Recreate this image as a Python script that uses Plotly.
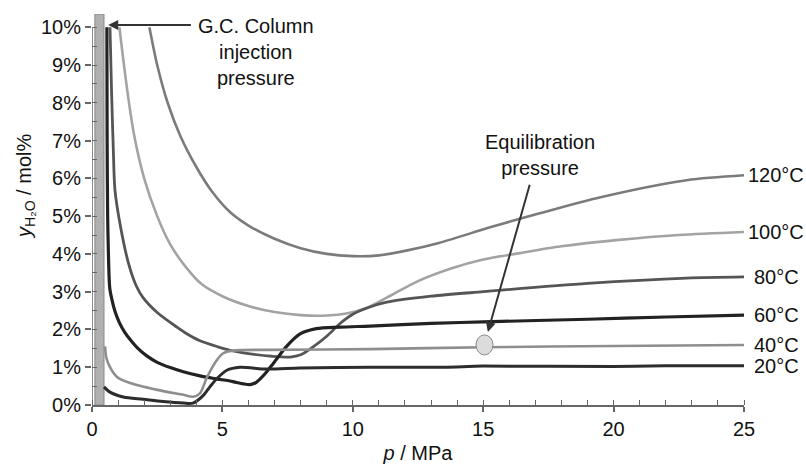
import plotly.graph_objects as go

# ---- data ----
p_120 = [2.2, 2.5, 2.9, 3.4, 4.0, 4.6, 5.3, 6.0, 7.0, 8.0, 9.0, 10.0, 11.0, 12.0, 13.3, 15.3, 17.2, 19.5, 22.8, 25]
y_120 = [10, 9.0, 8.0, 7.1, 6.3, 5.65, 5.1, 4.75, 4.4, 4.15, 4.0, 3.94, 3.96, 4.08, 4.29, 4.71, 5.08, 5.5, 5.95, 6.08]

p_100 = [1.05, 1.3, 1.6, 2.0, 2.5, 3.0, 3.6, 4.2, 5.0, 6.0, 7.0, 8.0, 9.0, 9.8, 10.5, 11.3, 12.5, 13.8, 15.0, 16.4, 18.0, 20.2, 22.5, 25]
y_100 = [10, 8.6, 7.2, 6.0, 5.0, 4.25, 3.65, 3.2, 2.88, 2.62, 2.46, 2.38, 2.37, 2.43, 2.56, 2.84, 3.28, 3.62, 3.85, 4.02, 4.2, 4.37, 4.5, 4.58]

p_80 = [0.69, 0.75, 0.82, 0.88, 1.1, 1.4, 1.7, 1.95, 2.5, 3.26, 3.6, 4.14, 4.83, 5.4, 6.0, 6.9, 7.6, 8.0, 8.4, 9.0, 9.5, 10.0, 10.6, 11.3, 13.0, 15.0, 19.0, 22.8, 25]
y_80 = [10, 8.3, 6.7, 5.69, 4.7, 3.75, 3.15, 2.85, 2.45, 2.06, 1.9, 1.7, 1.54, 1.43, 1.36, 1.29, 1.27, 1.33, 1.5, 1.82, 2.15, 2.4, 2.58, 2.72, 2.88, 3.0, 3.22, 3.36, 3.39]

p_60 = [0.57, 0.58, 0.6, 0.63, 0.68, 0.76, 0.88, 1.05, 1.25, 1.5, 1.73, 2.1, 2.5, 3.0, 3.5, 4.14, 4.7, 5.4, 5.8, 6.06, 6.3, 6.6, 6.95, 7.46, 7.98, 8.6, 9.5, 10.66, 13, 15, 19, 22, 25]
y_60 = [10, 7.0, 5.0, 4.0, 3.1, 2.8, 2.48, 2.18, 1.93, 1.7, 1.52, 1.3, 1.13, 0.99, 0.88, 0.77, 0.7, 0.62, 0.56, 0.54, 0.6, 0.8, 1.1, 1.55, 1.88, 2.02, 2.06, 2.09, 2.16, 2.2, 2.27, 2.33, 2.38]

p_40 = [0.5, 0.55, 0.69, 0.96, 1.46, 2.5, 3.5, 3.87, 4.14, 4.4, 4.79, 5.03, 5.4, 6.7, 10.66, 15, 20, 25]
y_40 = [1.55, 1.25, 1.0, 0.74, 0.58, 0.4, 0.27, 0.22, 0.31, 0.72, 1.19, 1.37, 1.44, 1.46, 1.48, 1.53, 1.56, 1.59]

p_20 = [0.46, 0.69, 1.2, 1.96, 2.72, 3.5, 3.87, 4.26, 4.52, 4.79, 5.17, 5.67, 6.7, 7.98, 10.66, 13.5, 15, 20, 22, 25]
y_20 = [0.48, 0.34, 0.21, 0.15, 0.09, 0.05, 0.05, 0.25, 0.48, 0.7, 0.92, 1.0, 0.95, 0.98, 1.0, 1.0, 1.03, 1.02, 1.04, 1.04]

labels = ["120°C", "100°C", "80°C", "60°C", "40°C", "20°C"]
series_p = [p_120, p_100, p_80, p_60, p_40, p_20]
series_y = [y_120, y_100, y_80, y_60, y_40, y_20]
colors = ["#7b7b7b", "#a3a3a3", "#555555", "#222222", "#8e8e8e", "#2c2c2c"]
widths = [2.6, 2.6, 2.8, 3.2, 2.6, 3.0]

injection_band = [0.11, 0.46]      # MPa, G.C. column injection pressure
injection_top = 10.35              # %
arrow_gc = dict(head=(0.62, 10.06), tail=(3.85, 10.06))
equil_point = (15.05, 1.59)
arrow_eq = dict(head=(15.18, 1.93), tail=(16.8, 5.87))

x_ticks = [0, 5, 10, 15, 20, 25]
y_ticks = list(range(0, 11))
y_ticktext = [f"{v}%" for v in y_ticks]

FONT = "Liberation Sans, Arial, Helvetica, sans-serif"

fig = go.Figure()
for lab, px, py, c, w in zip(labels, series_p, series_y, colors, widths):
    fig.add_trace(go.Scatter(x=px, y=py, mode="lines", name=lab,
                             line=dict(color=c, width=w, shape="spline", smoothing=0.8),
                             showlegend=False, hoverinfo="skip"))

# injection pressure band
fig.add_shape(type="rect", xref="x", yref="y",
              x0=injection_band[0], x1=injection_band[1], y0=0, y1=injection_top,
              fillcolor="#b0b0b0", line=dict(color="#8a8a8a", width=1), layer="below")
# y axis line (0..10 %)
fig.add_shape(type="line", xref="x", yref="y", x0=0, x1=0, y0=y_ticks[0], y1=y_ticks[-1],
              line=dict(color="#666666", width=1.5))

# equilibration point
fig.add_shape(type="circle", xref="x", yref="y", xsizemode="pixel", ysizemode="pixel",
              xanchor=equil_point[0], yanchor=equil_point[1],
              x0=-8.5, x1=8.5, y0=-10, y1=10,
              fillcolor="#dcdcdc", line=dict(color="#888888", width=1))

ann_font = dict(family=FONT, size=20, color="#111111")

# right-hand labels
for lab, px, py in zip(labels, series_p, series_y):
    fig.add_annotation(x=px[-1], y=py[-1], xref="x", yref="y", text=lab, showarrow=False,
                       xanchor="center", yanchor="middle", xshift=32, font=ann_font)

# arrows
fig.add_annotation(x=arrow_gc["head"][0], y=arrow_gc["head"][1], ax=arrow_gc["tail"][0], ay=arrow_gc["tail"][1],
                   xref="x", yref="y", axref="x", ayref="y", text="", showarrow=True,
                   arrowhead=2, arrowsize=1, arrowwidth=2, arrowcolor="#333333")
fig.add_annotation(x=arrow_eq["head"][0], y=arrow_eq["head"][1], ax=arrow_eq["tail"][0], ay=arrow_eq["tail"][1],
                   xref="x", yref="y", axref="x", ayref="y", text="", showarrow=True,
                   arrowhead=2, arrowsize=1, arrowwidth=2, arrowcolor="#333333")

# annotation texts
fig.add_annotation(x=6.29, y=9.35, xref="x", yref="y", text="G.C. Column<br>injection<br>pressure",
                   showarrow=False, xanchor="center", yanchor="middle", align="center", font=ann_font)
fig.add_annotation(x=17.18, y=6.63, xref="x", yref="y", text="Equilibration<br>pressure",
                   showarrow=False, xanchor="center", yanchor="middle", align="center", font=ann_font)

# y axis title
fig.add_annotation(x=-0.103, y=0.56, xref="paper", yref="paper",
                   text="<i>y</i><sub>H₂O</sub> / mol%", textangle=-90, showarrow=False,
                   xanchor="center", yanchor="middle", font=ann_font)

fig.update_layout(
    width=806, height=464,
    margin=dict(l=92, r=62, t=14, b=59, autoexpand=False),
    paper_bgcolor="white", plot_bgcolor="white",
    font=dict(family=FONT, size=20, color="#111111"),
    xaxis=dict(range=[0, 25], tickvals=x_ticks, showgrid=False, zeroline=False, automargin=False,
               showline=True, linecolor="#666666", linewidth=1.5,
               ticks="outside", ticklen=5, tickcolor="#666666", tickwidth=1.5,
               minor=dict(dtick=1, ticks="inside", ticklen=5, tickcolor="#666666", tickwidth=1.2),
               title=dict(text="<i>p</i> / MPa", standoff=11, font=dict(size=20))),
    yaxis=dict(range=[0, injection_top], tickvals=y_ticks, ticktext=y_ticktext, showgrid=False,
               zeroline=False, automargin=False,
               showline=False, ticks="outside", ticklen=6, tickcolor="#666666", tickwidth=1.5,
               minor=dict(dtick=0.5, ticks="inside", ticklen=5, tickcolor="#666666", tickwidth=1.2)),
)

fig.write_html("out.html")
